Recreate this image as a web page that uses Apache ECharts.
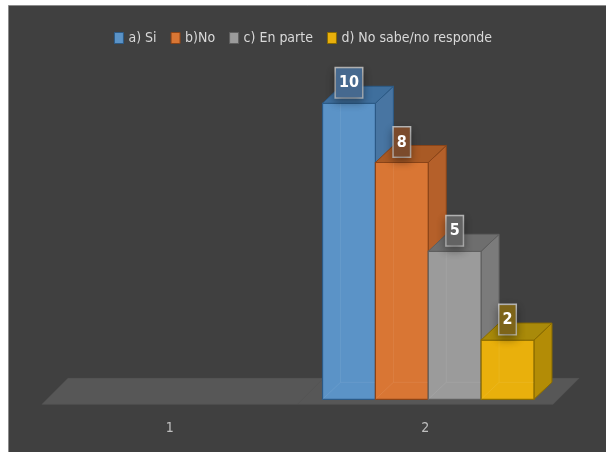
<!DOCTYPE html>
<html>
<head>
<meta charset="utf-8">
<script src="https://cdn.jsdelivr.net/npm/echarts@6/dist/echarts.min.js"></script>
<style>
  html, body { margin: 0; padding: 0; background: #ffffff; }
  #chart { width: 606px; height: 452px; }
</style>
</head>
<body>
<div id="chart"></div>
<script>
// categorias y respuestas
const categories = ['1', '2'];
const seriesNames = ['a) Si', 'b)No', 'c) En parte', 'd) No sabe/no responde'];
const valSi = [null, 10];
const valNo = [null, 8];
const valEnParte = [null, 5];
const valNoSabe = [null, 2];
const floorValues = [0, 0];

const FONT = '"Liberation Sans Narrow", "DejaVu Sans Condensed", sans-serif';

// colores de cada cara: frente, arriba, lado, borde, etiqueta
const palette = [
  { front: '#5b93c7', top: '#3f6f9d', side: '#4875a2', edge: '#2c5a86', label: '#46698f' },
  { front: '#d97634', top: '#a95a25', side: '#b5602a', edge: '#8a4418', label: '#7b4b2c' },
  { front: '#9b9b9b', top: '#6e6e6e', side: '#7b7b7b', edge: '#5f5f5f', label: '#636363' },
  { front: '#e9b00c', top: '#a98a0a', side: '#b38c06', edge: '#8b6c00', label: '#7d6419' }
];

const DX = 18, DY = 17;
const GROUP = 0.8275;

function barRender(idx) {
  return function (params, api) {
    const val = api.value(1);
    if (val == null || isNaN(val)) return;
    const cat = api.value(0);
    const base = api.coord([cat, 0]);
    const top = api.coord([cat, val]);
    const band = api.size([1, 0])[0];
    const groupW = band * GROUP;
    const w = groupW / 4;
    const x0 = base[0] - groupW / 2 + 3 + idx * w;
    const x1 = x0 + w;
    const yt = top[1], yb = base[1];
    const c = palette[idx];
    const children = [
      { type: 'polygon', shape: { points: [[x1, yt], [x1 + DX, yt - DY], [x1 + DX, yb - DY], [x1, yb]] },
        style: { fill: c.side, stroke: c.edge, lineWidth: 1 } },
      { type: 'rect', shape: { x: x0, y: yt, width: w, height: yb - yt },
        style: { fill: c.front, stroke: c.edge, lineWidth: 1.2 } },
      { type: 'polyline', shape: { points: [[x0 + DX, yt], [x0 + DX, yb - DY], [x0, yb]] },
        style: { fill: null, stroke: 'rgba(255,255,255,0.07)', lineWidth: 1 } },
      { type: 'polyline', shape: { points: [[x0 + DX, yb - DY], [x1, yb - DY]] },
        style: { fill: null, stroke: 'rgba(255,255,255,0.07)', lineWidth: 1 } },
      { type: 'polygon', shape: { points: [[x0, yt], [x0 + DX, yt - DY], [x1 + DX, yt - DY], [x1, yt]] },
        style: { fill: c.top, stroke: c.edge, lineWidth: 1 } },
      { type: 'text', x: x0 + w / 2, y: yt - 6,
        style: {
          text: String(val), fill: '#ffffff', font: 'bold 16px ' + FONT,
          align: 'center', verticalAlign: 'bottom',
          padding: [7, 3, 6, 3], backgroundColor: c.label,
          borderColor: 'rgba(215,215,215,0.8)', borderWidth: 1.5,
          shadowBlur: 8, shadowColor: 'rgba(0,0,0,0.35)', shadowOffsetY: 4
        } }
    ];
    return { type: 'group', children: children };
  };
}

function floorRender(params, api) {
  const cat = api.value(0);
  const base = api.coord([cat, api.value(1)]);
  const band = api.size([1, 0])[0];
  const xl = base[0] - band / 2, xr = base[0] + band / 2;
  const yf = base[1] + 5, yk = base[1] - 21;
  return {
    type: 'polygon',
    shape: { points: [[xl, yf], [xl + 26, yk], [xr + 26, yk], [xr, yf]] },
    style: { fill: '#575757', stroke: '#575757', lineWidth: 0.5 }
  };
}

const valueLists = [valSi, valNo, valEnParte, valNoSabe];

const chart = echarts.init(document.getElementById('chart'));
const option = {
  backgroundColor: '#ffffff',
  animation: false,
  graphic: [{
    type: 'rect', z: -100,
    shape: { x: 8.5, y: 5.5, width: 600, height: 450 },
    style: { fill: '#404040', stroke: '#8c8c8c', lineWidth: 1 }
  }],
  legend: {
    top: 26, left: 'center',
    itemWidth: 9, itemHeight: 11, itemGap: 14,
    icon: 'rect',
    textStyle: { color: '#d9d9d9', fontSize: 14, fontFamily: FONT },
    data: seriesNames.map((n, i) => ({
      name: n,
      itemStyle: { color: palette[i].front, borderColor: palette[i].edge, borderWidth: 1 }
    }))
  },
  grid: { left: 42, right: 53, top: 44.1, bottom: 52.7, containLabel: false },
  xAxis: {
    type: 'category', data: categories,
    axisLine: { show: false }, axisTick: { show: false }, splitLine: { show: false },
    axisLabel: { color: '#bfbfbf', fontSize: 14, fontFamily: FONT, margin: 22 }
  },
  yAxis: { type: 'value', min: 0, max: 12, show: false },
  series: [
    {
      type: 'custom', name: 'floor', silent: true, z: 1,
      renderItem: floorRender,
      data: floorValues.map((v, i) => [i, v])
    }
  ].concat(seriesNames.map((n, i) => ({
    type: 'custom', name: n, z: 2 + i,
    itemStyle: { color: palette[i].front },
    renderItem: barRender(i),
    data: valueLists[i].map((v, j) => [j, v == null ? '-' : v])
  })))
};
chart.setOption(option);
</script>
</body>
</html>
